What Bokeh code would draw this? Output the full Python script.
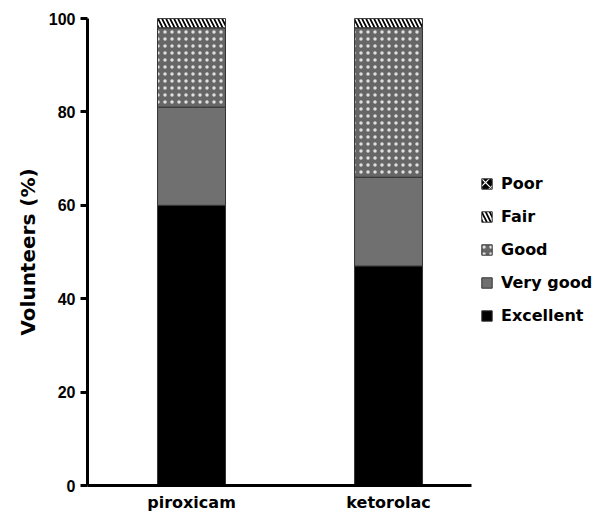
from bokeh.plotting import figure
from bokeh.models import ColumnDataSource, Range1d, FixedTicker, Legend, LegendItem
from bokeh.embed import file_html
from bokeh.resources import INLINE

categories = ["piroxicam", "ketorolac"]
ratings = ["Excellent", "Very good", "Good", "Fair", "Poor"]
excellent = [60, 47]
very_good = [21, 19]
good = [17, 32]
fair = [2, 2]
poor = [0, 0]
y_ticks = [0, 20, 40, 60, 80, 100]

series = [excellent, very_good, good, fair, poor]
styles = [
    dict(fill_color="black", hatch_pattern=None),
    dict(fill_color="#707070", hatch_pattern=None),
    dict(fill_color="#666666", hatch_pattern="dot", hatch_color="#e0e0e0", hatch_scale=7, hatch_weight=1.6),
    dict(fill_color="black", hatch_pattern="left_diagonal_line", hatch_color="white", hatch_scale=8, hatch_weight=1.8),
    dict(fill_color="black", hatch_pattern="diagonal_cross", hatch_color="white", hatch_scale=10, hatch_weight=1.2),
]

xpos = list(range(len(categories)))

FONT = "DejaVu Sans"
TICKFONT = "Liberation Sans"

p = figure(width=601, height=514, output_backend="svg", toolbar_location=None,
           x_range=Range1d(-0.528, 2.081), y_range=Range1d(0, 100),
           min_border_left=87, min_border_top=18, min_border_right=0, min_border_bottom=27)
p.xgrid.visible = False
p.ygrid.visible = False
p.outline_line_color = None

bottoms = [0] * len(categories)
items = []
for name, vals, st in zip(ratings, series, styles):
    tops = [b + v for b, v in zip(bottoms, vals)]
    src = ColumnDataSource(dict(x=xpos, bottom=bottoms, top=tops))
    kw = dict(st)
    hp = kw.pop("hatch_pattern")
    if hp is not None:
        kw["hatch_pattern"] = hp
    r = p.vbar(x="x", bottom="bottom", top="top", width=0.345, source=src,
               line_color="#333333", line_width=1, **kw)
    items.append(LegendItem(label=name, renderers=[r]))
    bottoms = tops

legend = Legend(items=list(reversed(items)), location=(393, 160))
legend.label_text_font = FONT
legend.label_text_font_style = "bold"
legend.label_text_font_size = "16px"
legend.label_text_color = "black"
legend.glyph_width = 13
legend.glyph_height = 13
legend.label_height = 20
legend.spacing = 13
legend.label_standoff = 8
legend.border_line_color = None
legend.background_fill_alpha = 0
legend.margin = 0
legend.padding = 2
p.add_layout(legend, "center")

# y axis
ya = p.yaxis[0]
ya.ticker = FixedTicker(ticks=y_ticks)
ya.bounds = (0, 100)
ya.axis_label = "Volunteers (%)"
ya.axis_label_text_font = FONT
ya.axis_label_text_font_style = "bold"
ya.axis_label_text_font_size = "20px"
ya.axis_label_text_color = "black"
ya.axis_label_standoff = 6
ya.major_label_text_font = TICKFONT
ya.major_label_text_font_style = "bold"
ya.major_label_text_font_size = "16px"
ya.major_label_text_color = "black"
ya.axis_line_width = 3
ya.axis_line_color = "black"
ya.major_tick_line_width = 3
ya.major_tick_line_color = "black"
ya.major_tick_out = 7
ya.major_tick_in = 0
ya.minor_tick_line_color = None
ya.major_label_standoff = 5

xa = p.xaxis[0]
xa.ticker = FixedTicker(ticks=xpos)
xa.bounds = (-0.528, 1.42)
xa.major_label_overrides = {i: c for i, c in zip(xpos, categories)}
xa.major_label_text_font = FONT
xa.major_label_text_font_style = "bold"
xa.major_label_text_font_size = "16px"
xa.major_label_text_color = "black"
xa.axis_line_width = 3
xa.axis_line_color = "black"
xa.major_tick_line_color = None
xa.major_tick_out = 0
xa.major_tick_in = 0
xa.minor_tick_line_color = None
xa.major_label_standoff = 7

open("out.html", "w").write(file_html(p, INLINE))
